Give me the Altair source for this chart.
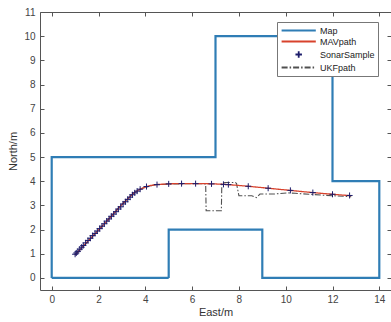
import altair as alt
import pandas as pd

# ---- data ----
map_x = [0, 5, 5, 9, 9, 14, 14, 12, 12, 7, 7, 0, 0]
map_y = [0, 0, 2, 2, 0, 0, 4, 4, 10, 10, 5, 5, 0]

mav_x = [1.0, 1.5, 2.0, 2.5, 3.0, 3.3, 3.5, 3.7, 3.9, 4.1, 4.4, 4.8, 5.5, 6.2, 6.9, 7.5, 8.4, 9.25, 10.2, 11.16, 12.0, 12.8]
mav_y = [0.95, 1.47, 1.98, 2.50, 3.03, 3.32, 3.50, 3.63, 3.72, 3.79, 3.85, 3.88, 3.90, 3.90, 3.89, 3.86, 3.79, 3.71, 3.62, 3.53, 3.46, 3.40]

sonar_x = [1.00, 1.05, 1.12, 1.20, 1.28, 1.35, 1.45, 1.55, 1.65, 1.75, 1.85, 1.95, 2.05, 2.15, 2.25,
           2.35, 2.45, 2.55, 2.65, 2.75, 2.85, 2.95, 3.05, 3.15, 3.25, 3.35, 3.45, 3.55, 3.65, 3.78,
           4.05, 4.50, 5.00, 5.55, 6.15, 6.83, 7.34, 7.55, 8.40, 9.25, 10.20, 11.16, 12.00, 12.73]
sonar_y = [0.98, 1.03, 1.10, 1.19, 1.27, 1.34, 1.45, 1.55, 1.64, 1.75, 1.84, 1.94, 2.04, 2.14, 2.24,
           2.35, 2.44, 2.55, 2.64, 2.74, 2.85, 2.94, 3.06, 3.15, 3.25, 3.34, 3.44, 3.52, 3.59, 3.67,
           3.78, 3.86, 3.89, 3.90, 3.90, 3.89, 3.87, 3.86, 3.79, 3.71, 3.62, 3.53, 3.46, 3.41]

ukf_x = [1.0, 2.0, 3.0, 3.5, 3.9, 4.4, 5.0, 6.0, 6.58, 6.60, 7.25, 7.27, 7.40, 7.85, 7.90, 8.00, 8.55,
         8.75, 8.90, 9.50, 10.10, 10.40, 11.00, 11.60, 12.20, 12.80]
ukf_y = [0.95, 1.98, 3.03, 3.50, 3.72, 3.85, 3.88, 3.90, 3.89, 2.78, 2.78, 3.88, 3.95, 3.95, 3.90, 3.40, 3.40,
         3.32, 3.47, 3.47, 3.52, 3.50, 3.46, 3.42, 3.39, 3.36]

x_ticks = [0, 2, 4, 6, 8, 10, 12, 14]
y_ticks = list(range(0, 12))

series_names = ["Map", "MAVpath", "SonarSample", "UKFpath"]
series_colors = ["#2f7db5", "#d8422c", "#1c1c6a", "#505050"]
series_dash = [[1, 0], [1, 0], [1, 0], [6, 2, 1.5, 2]]
series_shapes = ["M-0.9,0L7,0", "M-0.9,0L7,0", "M2.3,0L3.8,0M3.05,-0.75L3.05,0.75", "M-0.9,0L7,0"]
sonar_shape = "M-0.7,0L0.7,0M0,-0.7L0,0.7"


def frame(xs, ys, name):
    return pd.DataFrame({"x": xs, "y": ys, "i": list(range(len(xs))), "series": name})


df_map = frame(map_x, map_y, "Map")
df_mav = frame(mav_x, mav_y, "MAVpath")
df_sonar = frame(sonar_x, sonar_y, "SonarSample")
df_ukf = frame(ukf_x, ukf_y, "UKFpath")

FONT = "Liberation Sans"
AX = "#555555"

xscale = alt.Scale(domain=[-0.5, 14.5], nice=False, zero=False)
yscale = alt.Scale(domain=[-0.5, 11], nice=False, zero=False)

color = alt.Color(
    "series:N",
    scale=alt.Scale(domain=series_names, range=series_colors),
    legend=alt.Legend(
        title=None, orient="none", legendX=237, legendY=10,
        fillColor="white", strokeColor="#777777", padding=3,
        labelFont=FONT, labelFontSize=9, labelColor="#222222", labelOffset=29,
        symbolSize=75, symbolStrokeWidth=1.8, rowPadding=0,
    ),
)
dash = alt.StrokeDash("series:N", scale=alt.Scale(domain=series_names, range=series_dash))
shape = alt.Shape("series:N", scale=alt.Scale(domain=series_names, range=series_shapes))

ax_x_labels = alt.Axis(orient="bottom", values=x_ticks, ticks=False, domain=False, grid=False,
                       labelFont=FONT, labelFontSize=10, labelColor="#444444", labelPadding=4,
                       title="East/m", titleFont=FONT, titleFontSize=11, titleFontWeight="normal",
                       titleColor="#333333", titlePadding=2)
ax_y_labels = alt.Axis(orient="left", values=y_ticks, ticks=False, domain=False, grid=False,
                       labelFont=FONT, labelFontSize=10, labelColor="#444444", labelPadding=5,
                       title="North/m", titleFont=FONT, titleFontSize=11, titleFontWeight="normal",
                       titleColor="#333333", titlePadding=5)
ax_x_bottom_ticks = alt.Axis(orient="bottom", values=x_ticks, labels=False, domain=False, grid=False,
                             tickSize=4, offset=-4, tickColor=AX, title=None)
ax_y_left_ticks = alt.Axis(orient="left", values=y_ticks, labels=False, domain=False, grid=False,
                           tickSize=4, offset=-4, tickColor=AX, title=None)
ax_x_top_ticks = alt.Axis(orient="top", values=x_ticks, labels=False, domain=False, grid=False,
                          tickSize=4, offset=-4, tickColor=AX, title=None)
ax_y_right_ticks = alt.Axis(orient="right", values=y_ticks, labels=False, domain=False, grid=False,
                            tickSize=4, offset=-4, tickColor=AX, title=None)

map_layer = alt.Chart(df_map).mark_line(strokeWidth=2.2).encode(
    x=alt.X("x:Q", scale=xscale, axis=ax_x_labels),
    y=alt.Y("y:Q", scale=yscale, axis=ax_y_labels),
    order="i:Q", color=color, strokeDash=dash,
)
mav_layer = alt.Chart(df_mav).mark_line(strokeWidth=1.3, interpolate="monotone").encode(
    x=alt.X("x:Q", scale=xscale, axis=ax_x_bottom_ticks),
    y=alt.Y("y:Q", scale=yscale, axis=ax_y_left_ticks),
    order="i:Q", color=color, strokeDash=dash,
)
ukf_layer = alt.Chart(df_ukf).mark_line(strokeWidth=1.1).encode(
    x=alt.X("x:Q", scale=xscale, axis=None),
    y=alt.Y("y:Q", scale=yscale, axis=None),
    order="i:Q", color=color, strokeDash=dash,
)
# sonar markers drawn with their own fixed plus symbol; legend symbol comes from the shape scale
sonar_layer = alt.Chart(df_sonar).mark_point(filled=False, strokeWidth=1.0, size=75, opacity=1,
                                             shape=sonar_shape).encode(
    x=alt.X("x:Q", scale=xscale, axis=ax_x_top_ticks),
    y=alt.Y("y:Q", scale=yscale, axis=ax_y_right_ticks),
    color=color,
)
# invisible layer carrying the shape scale so the merged legend shows per-series symbols
legend_shape_layer = alt.Chart(df_sonar).mark_point(opacity=0, size=75).encode(
    x=alt.X("x:Q", scale=xscale, axis=None),
    y=alt.Y("y:Q", scale=yscale, axis=None),
    color=color, shape=shape,
)

chart = alt.layer(map_layer, ukf_layer, mav_layer, sonar_layer, legend_shape_layer).resolve_axis(
    x="independent", y="independent"
).properties(
    width=351, height=278,
    autosize=alt.AutoSizeParams(type="none"),
    padding={"left": 40, "top": 12, "right": 0, "bottom": 32},
    background="white",
).configure_view(
    stroke=AX, strokeWidth=1
)

chart.save("out.html", embed_options={"renderer": "svg", "actions": False})
